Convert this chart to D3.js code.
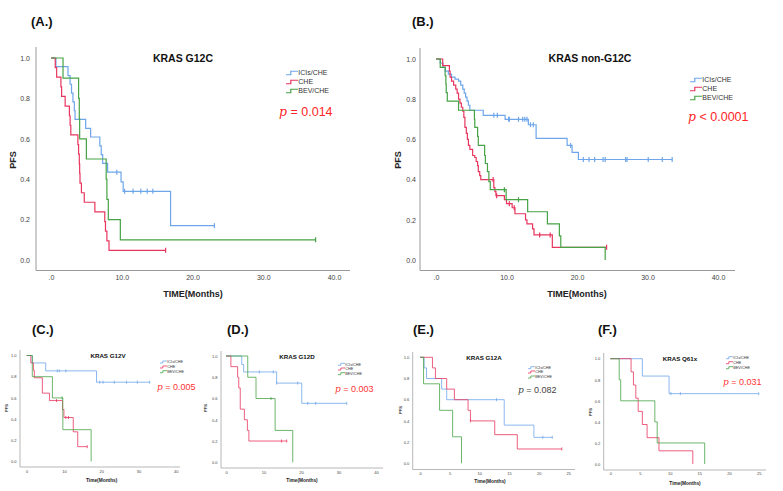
<!DOCTYPE html>
<html><head><meta charset="utf-8">
<script src="https://cdn.jsdelivr.net/npm/d3@7"></script>
<style>html,body{margin:0;padding:0;background:#fff;}svg{display:block;}</style>
</head><body>
<script>
// ---------------- DATA ----------------
const groups = ["ICIs/CHE", "CHE", "BEV/CHE"];
const pfsTicks = [0, 0.2, 0.4, 0.6, 0.8, 1.0];
const pfsTickLabels = ["0.0", "0.2", "0.4", "0.6", "0.8", "1.0"];
const bigTimeTicks = [0, 10, 20, 30, 40];
const bigTimeTickLabels = [".0", "10.0", "20.0", "30.0", "40.0"];
const smallTimeTicks40 = [0, 10, 20, 30, 40];
const smallTimeTicks25 = [0, 5, 10, 15, 20, 25];

// (A.) KRAS G12C  [time, survival]
const aICI = [[0,1],[0.7,0.957],[2.4,0.913],[2.7,0.870],[2.9,0.826],[3.1,0.783],[3.3,0.739],[3.4,0.696],[4.9,0.652],[5.6,0.609],[6.9,0.565],[7.1,0.522],[7.3,0.478],[8.0,0.435],[9.9,0.387],[10.2,0.34],[16.9,0.17],[23.1,0.17]];
const aICIcens = [[9.3,0.435],[10.4,0.34],[11.6,0.34],[12.7,0.34],[13.6,0.34],[14.4,0.34],[23.1,0.17]];
const aCHE = [[0,1],[0.6,0.952],[0.8,0.905],[1.4,0.857],[1.5,0.810],[2.0,0.762],[2.6,0.714],[2.7,0.667],[2.8,0.619],[3.8,0.571],[3.9,0.524],[4.0,0.476],[4.05,0.429],[4.1,0.381],[4.3,0.333],[4.7,0.286],[6.2,0.238],[7.6,0.190],[7.7,0.143],[7.9,0.095],[8.2,0.048],[16.2,0.048]];
const aCHEcens = [[16.2,0.048]];
const aBEV = [[0,1],[1.7,0.9],[3.9,0.8],[4.0,0.7],[4.05,0.6],[5.0,0.5],[7.8,0.4],[7.9,0.3],[8.1,0.2],[9.8,0.1],[37.4,0.1]];
const aBEVcens = [[37.4,0.1]];

// (B.) KRAS non-G12C
const bICI = [[0,1],[0.6,0.98],[1.0,0.96],[1.3,0.94],[1.75,0.925],[2.2,0.91],[2.7,0.90],[3.2,0.89],[3.5,0.87],[3.8,0.85],[4.0,0.83],[4.2,0.81],[4.4,0.79],[4.6,0.77],[4.8,0.745],[6.7,0.72],[9.8,0.70],[13.1,0.673],[14.2,0.605],[18.6,0.57],[19.3,0.535],[20.2,0.50],[33.5,0.50]];
const bICIcens = [[8.2,0.72],[8.7,0.72],[10.3,0.70],[10.4,0.70],[11.7,0.70],[12.3,0.70],[12.6,0.70],[12.9,0.70],[13.4,0.673],[13.8,0.673],[19.1,0.57],[20.9,0.5],[21.7,0.5],[22.5,0.5],[23.7,0.5],[24.0,0.5],[26.9,0.5],[27.1,0.5],[30.1,0.5],[32.1,0.5],[33.5,0.5]];
const bCHE = [[0,1],[0.95,0.967],[1.9,0.94],[2.0,0.91],[2.2,0.89],[2.5,0.87],[2.8,0.85],[3.0,0.83],[3.2,0.80],[3.4,0.78],[3.6,0.76],[3.8,0.74],[3.95,0.71],[4.1,0.66],[4.3,0.63],[4.45,0.60],[4.6,0.57],[4.8,0.55],[5.2,0.52],[5.5,0.51],[5.7,0.49],[5.9,0.47],[6.0,0.44],[6.2,0.42],[6.35,0.40],[8.2,0.36],[8.35,0.34],[8.5,0.32],[9.7,0.30],[10.0,0.28],[10.8,0.26],[11.2,0.23],[12.7,0.20],[12.9,0.18],[13.7,0.155],[13.9,0.125],[16.5,0.063],[24.2,0.063]];
const bCHEcens = [[8.1,0.40],[8.6,0.32],[10.4,0.28],[11.1,0.26],[14.7,0.125],[16.2,0.125],[24.2,0.063]];
const bBEV = [[0,1],[0.6,0.958],[1.3,0.917],[1.4,0.875],[1.45,0.833],[1.6,0.79],[3.2,0.745],[5.45,0.70],[5.5,0.66],[5.9,0.615],[6.0,0.57],[6.9,0.52],[7.0,0.48],[7.3,0.44],[7.5,0.39],[7.7,0.35],[9.95,0.30],[13.0,0.24],[15.8,0.18],[17.5,0.12],[17.7,0.063],[24.0,0.063],[24.0,0]];
const bBEVcens = [[9.7,0.35],[11.7,0.30]];

// (C.) KRAS G12V
const cICI = [[0,1],[1.5,0.93],[5.1,0.855],[18.75,0.748],[33,0.748]];
const cICIcens = [[8.2,0.855],[8.75,0.855],[10.5,0.855],[19.6,0.748],[20.5,0.748],[23.5,0.748],[26.8,0.748],[29.7,0.748],[33,0.748]];
const cCHE = [[0,1],[1.1,0.93],[1.8,0.86],[2.05,0.79],[4.2,0.645],[6.1,0.575],[9.6,0.49],[10.0,0.415],[12.5,0.28],[13.7,0.14],[16.25,0.14]];
const cCHEcens = [[8.0,0.575],[10.5,0.415],[11.2,0.415],[16.25,0.14]];
const cBEV = [[0,1],[1.5,0.8],[6.9,0.6],[9.7,0.3],[17.3,0.3],[17.3,0]];
const cBEVcens = [[9.5,0.6]];

// (D.) KRAS G12D
const dICI = [[0,1],[4.2,0.92],[4.7,0.85],[13.5,0.745],[20.2,0.555],[32.2,0.555]];
const dICIcens = [[8.9,0.85],[12.6,0.85],[13.5,0.745],[19.1,0.745],[21.8,0.555],[23.9,0.555],[32.2,0.555]];
const dCHE = [[0,1],[1.3,0.9],[3.1,0.8],[3.4,0.7],[3.8,0.5],[4.9,0.4],[5.7,0.3],[6.1,0.2],[16.2,0.2]];
const dCHEcens = [[14.8,0.2],[16.2,0.2]];
const dBEV = [[0,1],[5.8,0.8],[8.0,0.6],[13.1,0.3],[17.8,0.3],[17.8,0]];
const dBEVcens = [[12.0,0.6]];

// (E.) KRAS G12A
const eICI = [[0,1],[0.7,0.9],[1.1,0.8],[3.65,0.7],[4.5,0.6],[14.2,0.36],[19.2,0.245],[22.3,0.245]];
const eICIcens = [[12.9,0.6],[20.7,0.245],[22.3,0.245]];
const eCHE = [[0,1],[2.1,0.9],[2.6,0.8],[4.5,0.7],[5.8,0.6],[8.1,0.5],[8.5,0.4],[12.6,0.27],[16.4,0.135],[23.9,0.135]];
const eCHEcens = [[8.5,0.4],[23.9,0.135]];
const eBEV = [[0,1],[0.6,0.75],[3.3,0.5],[5.5,0.25],[7.0,0.25],[7.0,0]];
const eBEVcens = [];

// (F.) KRAS Q61x
const fICI = [[0,1],[5.4,0.835],[9.9,0.668],[25,0.668]];
const fICIcens = [[10.2,0.668],[11.8,0.668],[25,0.668]];
const fCHE = [[0,1],[3.5,0.875],[3.9,0.75],[4.3,0.625],[4.7,0.5],[5.4,0.375],[6.2,0.25],[8.2,0.125],[13.9,0.125],[13.9,0]];
const fCHEcens = [];
const fBEV = [[0,1],[1.5,0.8],[1.75,0.6],[7.5,0.4],[7.9,0.2],[15.9,0.2],[15.9,0]];
const fBEVcens = [];

const pValues = ["= 0.014", "< 0.0001", "= 0.005", "= 0.003", "= 0.082", "= 0.031"];
const titles = ["KRAS G12C", "KRAS non-G12C", "KRAS G12V", "KRAS G12D", "KRAS G12A", "KRAS Q61x"];
const tags = ["(A.)", "(B.)", "(C.)", "(D.)", "(E.)", "(F.)"];

// ---------------- DRAWING ----------------
const colors = ["#6fa6ea", "#e8365f", "#46a346"];
const SANS = "'Liberation Sans', Arial, sans-serif";
const svg = d3.select("body").append("svg").attr("width", 783).attr("height", 491)
  .style("font-family", SANS);
svg.append("rect").attr("width", 783).attr("height", 491).attr("fill", "#fff");

const big = {tickFs:7, titleFs:10.5, tagFs:13, xTitleFs:9, yTitleFs:9, legW:12, legH:3.5, legFs:7, legGap:2, pFs:12.5, lw:1.2, censH:5, axisW:1};
const small = {tickFs:4, titleFs:6.2, tagFs:13, xTitleFs:4.8, yTitleFs:4, legW:7, legH:2, legFs:3.8, legGap:1, pFs:9, lw:0.8, censH:3, axisW:0.7};

const panels = [
  Object.assign({}, big, {series:[aICI,aCHE,aBEV], cens:[aICIcens,aCHEcens,aBEVcens], xMax:40, x0:51, x1:334, y0:260, y1:58, ax:36, aTop:47, aBot:270.5, aRight:350, yPad:6, xLabY:280.5, xTicks:bigTimeTicks, xLabels:bigTimeTickLabels, titleX:183, titleY:61.5, tagX:31, tagY:25.5, xTitle:"TIME(Months)", xTitleX:193, xTitleY:297, yTitleX:16, yTitleY:160, legX:286, legY:[73,82,91], pX:279, pY:116, pColor:"#ff2626"}),
  Object.assign({}, big, {series:[bICI,bCHE,bBEV], cens:[bICIcens,bCHEcens,bBEVcens], xMax:40, x0:436, x1:718, y0:260, y1:59, ax:420, aTop:48, aBot:270.5, aRight:735, yPad:4, xLabY:280.5, xTicks:bigTimeTicks, xLabels:bigTimeTickLabels, titleX:590, titleY:61.5, tagX:412, tagY:25.5, xTitle:"TIME(Months)", xTitleX:577, xTitleY:297, yTitleX:401, yTitleY:160, legX:690, legY:[80,89,98], pX:688, pY:121, pColor:"#ff2626"}),
  Object.assign({}, small, {series:[cICI,cCHE,cBEV], cens:[cICIcens,cCHEcens,cBEVcens], xMax:40, x0:26.7, x1:175.7, y0:461.5, y1:355.5, ax:20, aTop:350, aBot:467, aRight:180, yPad:3.5, xLabY:473, xTicks:smallTimeTicks40, xLabels:smallTimeTicks40.map(String), titleX:108, titleY:357.5, tagX:32, tagY:333.5, xTitle:"Time(Months)", xTitleX:101.7, xTitleY:481.5, yTitleX:7.5, yTitleY:408, legX:160, legY:[362,367,371.7], pX:157, pY:389.5, pColor:"#ff3333"}),
  Object.assign({}, small, {series:[dICI,dCHE,dBEV], cens:[dICIcens,dCHEcens,dBEVcens], xMax:40, x0:226, x1:376, y0:462.3, y1:356, ax:221, aTop:351, aBot:468, aRight:383, yPad:3.5, xLabY:474, xTicks:smallTimeTicks40, xLabels:smallTimeTicks40.map(String), titleX:297, titleY:358.5, tagX:227, tagY:333.5, xTitle:"Time(Months)", xTitleX:302, xTitleY:482, yTitleX:207, yTitleY:408, legX:338, legY:[364.3,369,373.7], pX:335, pY:391.5, pColor:"#ff3333"}),
  Object.assign({}, small, {series:[eICI,eCHE,eBEV], cens:[eICIcens,eCHEcens,eBEVcens], xMax:25, x0:420, x1:568.3, y0:463.3, y1:357.3, ax:412.7, aTop:352, aBot:469.5, aRight:575, yPad:3.5, xLabY:475, xTicks:smallTimeTicks25, xLabels:smallTimeTicks25.map(String), titleX:484, titleY:359.5, tagX:413, tagY:333.5, xTitle:"Time(Months)", xTitleX:490, xTitleY:483, yTitleX:401.5, yTitleY:410, legX:528, legY:[367.7,372,377], pX:518, pY:393, pColor:"#444"}),
  Object.assign({}, small, {series:[fICI,fCHE,fBEV], cens:[fICIcens,fCHEcens,fBEVcens], xMax:25, x0:610.3, x1:758.7, y0:464, y1:358.7, ax:603.7, aTop:353, aBot:470, aRight:766, yPad:3.5, xLabY:475.5, xTicks:smallTimeTicks25, xLabels:smallTimeTicks25.map(String), titleX:680, titleY:361, tagX:598, tagY:333.5, xTitle:"Time(Months)", xTitleX:685, xTitleY:485, yTitleX:591.5, yTitleY:412, legX:726, legY:[357.7,362.7,367.7], pX:723, pY:385, pColor:"#ff3333"})
];

panels.forEach((p, pi) => {
  const g = svg.append("g");
  const x = d3.scaleLinear().domain([0, p.xMax]).range([p.x0, p.x1]);
  const y = d3.scaleLinear().domain([0, 1]).range([p.y0, p.y1]);

  // axes lines
  g.append("line").attr("x1", p.ax).attr("x2", p.ax).attr("y1", p.aTop).attr("y2", p.aBot)
    .attr("stroke", "#9a9a9a").attr("stroke-width", p.axisW);
  g.append("line").attr("x1", p.ax).attr("x2", p.aRight).attr("y1", p.aBot).attr("y2", p.aBot)
    .attr("stroke", "#9a9a9a").attr("stroke-width", p.axisW);

  // y axis labels via d3 axis
  const yAx = g.append("g").attr("transform", `translate(${p.ax},0)`)
    .call(d3.axisLeft(y).tickValues(pfsTicks).tickFormat((d, i) => pfsTickLabels[i]).tickSize(0).tickPadding(p.yPad));
  yAx.select(".domain").remove();
  yAx.selectAll("text").attr("font-size", p.tickFs).attr("font-family", SANS).attr("fill", "#444");

  // x axis labels via d3 axis
  const xAx = g.append("g").attr("transform", `translate(0,${p.xLabY - p.tickFs * 0.75})`)
    .call(d3.axisBottom(x).tickValues(p.xTicks).tickFormat((d, i) => p.xLabels[i]).tickSize(0).tickPadding(0));
  xAx.select(".domain").remove();
  xAx.selectAll("text").attr("font-size", p.tickFs).attr("font-family", SANS).attr("fill", "#444");

  // curves
  const line = d3.line().x(d => x(d[0])).y(d => y(d[1])).curve(d3.curveStepAfter);
  p.series.forEach((s, si) => {
    g.append("path").attr("d", line(s)).attr("fill", "none")
      .attr("stroke", colors[si]).attr("stroke-width", p.lw);
  });
  // censor marks
  p.cens.forEach((cs, si) => {
    g.selectAll(null).data(cs).enter().append("line")
      .attr("x1", d => x(d[0])).attr("x2", d => x(d[0]))
      .attr("y1", d => y(d[1]) - p.censH / 2).attr("y2", d => y(d[1]) + p.censH / 2)
      .attr("stroke", colors[si]).attr("stroke-width", p.lw);
  });

  // title
  g.append("text").attr("x", p.titleX).attr("y", p.titleY).attr("text-anchor", "middle")
    .attr("font-size", p.titleFs).attr("font-weight", "bold").attr("fill", "#111").text(titles[pi]);
  // tag
  g.append("text").attr("x", p.tagX).attr("y", p.tagY)
    .attr("font-size", p.tagFs).attr("font-weight", "bold").attr("fill", "#111").text(tags[pi]);
  // axis titles
  g.append("text").attr("x", p.xTitleX).attr("y", p.xTitleY).attr("text-anchor", "middle")
    .attr("font-size", p.xTitleFs).attr("font-weight", "bold").attr("fill", "#222").text(p.xTitle);
  g.append("text").attr("transform", `translate(${p.yTitleX},${p.yTitleY}) rotate(-90)`).attr("text-anchor", "middle")
    .attr("font-size", p.yTitleFs).attr("font-weight", "bold").attr("fill", "#222").text("PFS");

  // legend
  groups.forEach((name, gi) => {
    const ly = p.legY[gi];
    const lx = p.legX;
    g.append("path")
      .attr("d", `M${lx},${ly + p.legH / 2}H${lx + p.legW * 0.4}V${ly - p.legH / 2}H${lx + p.legW}`)
      .attr("fill", "none").attr("stroke", colors[gi]).attr("stroke-width", p.lw);
    g.append("text").attr("x", lx + p.legW + 0.3).attr("y", ly).attr("dy", "0.35em")
      .attr("font-size", p.legFs).attr("fill", "#333").text(name);
  });

  // p value
  const pt = g.append("text").attr("x", p.pX).attr("y", p.pY).attr("font-size", p.pFs).attr("fill", p.pColor);
  pt.append("tspan").attr("font-family", "'DejaVu Serif', serif").attr("font-style", "italic").text("p");
  pt.append("tspan").text(" " + pValues[pi]);
});
</script>
</body></html>
